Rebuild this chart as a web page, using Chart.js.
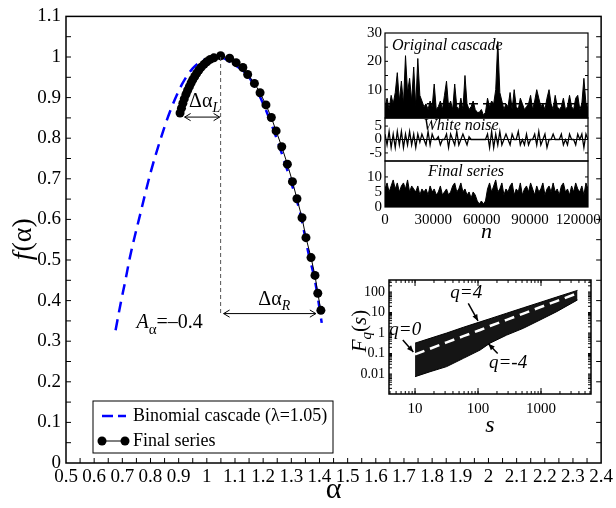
<!DOCTYPE html>
<html>
<head>
<meta charset="utf-8">
<script src="https://cdn.jsdelivr.net/npm/chart.js@4.4.1/dist/chart.umd.min.js"></script>
<style>
  body { margin: 0; background: #fff; }
  #wrap { position: relative; width: 616px; height: 508px; }
  canvas { position: absolute; }
</style>
</head>
<body>
<div id="wrap">
  <canvas id="mainChart" width="616" height="508" style="left:0;top:0"></canvas>
  <canvas id="seriesChart" width="272" height="225" style="left:340px;top:20px"></canvas>
  <canvas id="fqChart" width="272" height="190" style="left:340px;top:265px"></canvas>
</div>

<script>
// main panel: multifractal spectrum f(alpha)
var binomAlpha = [0.676, 0.694, 0.711, 0.727, 0.764, 0.799, 0.834, 0.870, 0.912, 0.950, 0.990, 1.040, 1.100, 1.150, 1.200, 1.250, 1.300, 1.330, 1.360, 1.385, 1.408];
var binomF     = [0.327, 0.393, 0.450, 0.507, 0.614, 0.712, 0.794, 0.867, 0.933, 0.972, 0.993, 1.000, 0.980, 0.950, 0.885, 0.795, 0.690, 0.620, 0.520, 0.445, 0.345];
var finalAlpha = [0.905, 0.910, 0.915, 0.920, 0.926, 0.932, 0.938, 0.944, 0.950, 0.957, 0.964, 0.972, 0.980, 0.990, 1.000, 1.012, 1.025, 1.049,
                  1.081, 1.104, 1.128, 1.145, 1.169, 1.189, 1.210, 1.229, 1.246, 1.266, 1.286, 1.304, 1.320, 1.338, 1.352, 1.370, 1.384, 1.394, 1.405];
var finalF     = [0.862, 0.874, 0.886, 0.897, 0.908, 0.918, 0.927, 0.936, 0.944, 0.952, 0.960, 0.968, 0.975, 0.982, 0.988, 0.994, 0.998, 1.003,
                  0.997, 0.986, 0.974, 0.957, 0.935, 0.912, 0.882, 0.851, 0.818, 0.779, 0.736, 0.693, 0.651, 0.604, 0.555, 0.506, 0.462, 0.418, 0.376];
var peakAlpha = 1.049, minAlpha = 0.907, maxAlpha = 1.405;

// top inset: the three signals (sampled along n)
var nMax = 126000;
var nTicks = [0, 30000, 60000, 90000, 120000];
var cascade = [4,7,3,8,5,9,16,6,13,5, 22,9,14,6,18,4,21,8,6,4,
               5,3,6,4,12,3,4,6,3,8, 13,4,6,3,12,4,3,7,3,15,
               5,3,4,6,3,2,2,3,1,2, 7,4,6,5,10,27,9,6,3,5,
               4,9,3,10,4,3,7,5,3,4, 5,8,3,6,10,7,4,5,3,7,
               10,5,3,8,4,3,4,7,3,4, 8,4,3,7,8,3,5,14,5,4];
var cascadeLevel = 5;
var noise = [2,-2,3,-3,2,-3,3,-2,3,-3, 2,-2,3,-2,2,-3,2,-1,2,0,
             -2,3,-2,2,0,0,1,-2,0,0, 2,-3,2,0,-2,3,-2,0,2,0,
             -2,1,0,0,0,0,0,0,0,0, 2,-3,3,-3,2,-2,3,-2,0,2,
             0,-2,2,0,0,3,-2,0,-2,2, -2,0,0,2,-2,3,-2,0,2,-3,
             0,0,2,0,0,0,2,-2,0,-2, 2,0,0,-2,2,0,2,-3,2,0];
var finalSeries = [6,8,5,7,9,6,8,5,7,8, 6,9,5,7,6,5,7,4,6,5,
                   6,4,7,5,6,4,5,7,4,5, 6,4,5,7,8,5,6,8,5,6,
                   4,5,3,5,4,2,1,2,1,2, 6,8,5,7,9,5,6,8,4,6,
                   5,7,8,4,6,5,8,4,6,7, 5,8,6,4,7,5,6,8,4,6,
                   7,5,8,5,6,4,7,8,5,6, 4,7,5,8,6,5,7,4,8,6];

// bottom inset: fluctuation functions F_q(s)
var fqS     = [10, 17.3, 31.8, 58.5, 108, 155, 285, 524, 964, 1774, 3800];
var fqUpper = [0.32, 0.55, 1.0, 1.9, 3.5, 5.0, 9.2, 17, 31, 57, 120];
var fqLower = [0.0074, 0.0129, 0.023, 0.058, 0.148, 0.32, 0.79, 1.7, 4.3, 11, 41];
var fqZero  = [0.09, 0.17, 0.35, 0.70, 1.4, 2.2, 4.4, 8.8, 18, 36, 87];

var serif = "'Liberation Serif', 'DejaVu Serif', serif";
Chart.defaults.font.family = serif;
Chart.defaults.color = '#000';

function pts(xs, ys) {
  return xs.map(function (x, i) { return { x: x, y: ys[i] }; });
}
function steps(from, to, step) {
  var out = [];
  for (var v = from; v <= to + 1e-9; v += step) out.push(+v.toFixed(4));
  return out;
}
function logMinor(from, to) {
  var out = [];
  for (var d = Math.floor(Math.log10(from)); d <= Math.ceil(Math.log10(to)); d++) {
    for (var k = 1; k <= 9; k++) {
      var v = k * Math.pow(10, d);
      if (v >= from && v <= to) out.push(v);
    }
  }
  return out;
}
function tickMarks(ctx, a, scale, values, side, len) {
  values.forEach(function (v) {
    var p = scale.getPixelForValue(v);
    if (side === 'bottom') { ctx.moveTo(p, a.bottom); ctx.lineTo(p, a.bottom - len); }
    else if (side === 'top') { ctx.moveTo(p, a.top); ctx.lineTo(p, a.top + len); }
    else if (side === 'left') { ctx.moveTo(a.left, p); ctx.lineTo(a.left + len, p); }
    else { ctx.moveTo(a.right, p); ctx.lineTo(a.right - len, p); }
  });
}
function runs(ctx, x, y, parts) {
  parts.forEach(function (r) {
    ctx.font = r.font;
    ctx.fillText(r.text, x, y + (r.dy || 0));
    x += ctx.measureText(r.text).width;
  });
}
function openArrow(ctx, x1, x2, y, s) {
  ctx.beginPath();
  ctx.moveTo(x1, y); ctx.lineTo(x2, y);
  ctx.moveTo(x1 + s, y - s * 0.6); ctx.lineTo(x1, y); ctx.lineTo(x1 + s, y + s * 0.6);
  ctx.moveTo(x2 - s, y - s * 0.6); ctx.lineTo(x2, y); ctx.lineTo(x2 - s, y + s * 0.6);
  ctx.stroke();
}
function solidArrow(ctx, x1, y1, x2, y2) {
  var ang = Math.atan2(y2 - y1, x2 - x1), h = 7;
  ctx.beginPath(); ctx.moveTo(x1, y1); ctx.lineTo(x2, y2); ctx.stroke();
  ctx.beginPath();
  ctx.moveTo(x2, y2);
  ctx.lineTo(x2 - h * Math.cos(ang - 0.4), y2 - h * Math.sin(ang - 0.4));
  ctx.lineTo(x2 - h * Math.cos(ang + 0.4), y2 - h * Math.sin(ang + 0.4));
  ctx.closePath(); ctx.fill();
}

// ---------- main chart ----------
var mainDecor = {
  id: 'mainDecor',
  afterDraw: function (chart) {
    var ctx = chart.ctx, a = chart.chartArea, xs = chart.scales.x, ys = chart.scales.y;
    ctx.save();
    ctx.strokeStyle = '#000';
    ctx.lineWidth = 1.5;
    ctx.strokeRect(a.left, a.top, a.right - a.left, a.bottom - a.top);
    ctx.lineWidth = 1;
    ctx.beginPath();
    tickMarks(ctx, a, xs, steps(0.55, 2.35, 0.05), 'bottom', 5);
    tickMarks(ctx, a, ys, steps(0.05, 1.05, 0.05), 'left', 5);
    tickMarks(ctx, a, ys, steps(0.05, 1.05, 0.05), 'right', 5);
    ctx.stroke();

    // guide from the peak
    var px = xs.getPixelForValue(peakAlpha);
    ctx.strokeStyle = '#555';
    ctx.setLineDash([4, 3]);
    ctx.beginPath();
    ctx.moveTo(px, ys.getPixelForValue(1.0));
    ctx.lineTo(px, ys.getPixelForValue(0.363));
    ctx.stroke();
    ctx.setLineDash([]);

    // width arrows
    ctx.strokeStyle = '#000';
    ctx.lineWidth = 1;
    openArrow(ctx, xs.getPixelForValue(minAlpha) + 4, px - 1, ys.getPixelForValue(0.852), 6);
    openArrow(ctx, px + 3, xs.getPixelForValue(maxAlpha) - 5, ys.getPixelForValue(0.368), 6);

    ctx.fillStyle = '#000';
    ctx.textBaseline = 'alphabetic';
    ctx.textAlign = 'left';
    runs(ctx, xs.getPixelForValue(0.937), ys.getPixelForValue(0.878), [
      { text: 'Δα', font: '20px ' + serif },
      { text: 'L', font: 'italic 14px ' + serif, dy: 5 }
    ]);
    runs(ctx, xs.getPixelForValue(1.183), ys.getPixelForValue(0.388), [
      { text: 'Δα', font: '20px ' + serif },
      { text: 'R', font: 'italic 14px ' + serif, dy: 5 }
    ]);
    runs(ctx, xs.getPixelForValue(0.75), ys.getPixelForValue(0.332), [
      { text: 'A', font: 'italic 20px ' + serif },
      { text: 'α', font: '15px ' + serif, dy: 6 },
      { text: '=–0.4', font: '20px ' + serif }
    ]);

    // y title f(alpha)
    ctx.save();
    ctx.translate(24, (a.top + a.bottom) / 2);
    ctx.rotate(-Math.PI / 2);
    ctx.textBaseline = 'middle';
    ctx.font = 'italic 28px ' + serif;
    var w1 = ctx.measureText('f').width;
    ctx.font = '28px ' + serif;
    var w2 = ctx.measureText('(α)').width;
    var sx = -(w1 + w2) / 2;
    ctx.font = 'italic 28px ' + serif;
    ctx.fillText('f', sx, 0);
    ctx.font = '28px ' + serif;
    ctx.fillText('(α)', sx + w1 + 1, 0);
    ctx.restore();

    // legend
    var lx = a.left + 27, ly = a.bottom - 62;
    ctx.lineWidth = 1;
    ctx.strokeStyle = '#000';
    ctx.strokeRect(lx, ly, 240, 52);
    ctx.strokeStyle = '#0000ff';
    ctx.lineWidth = 2.5;
    ctx.setLineDash([11, 5]);
    ctx.beginPath(); ctx.moveTo(lx + 9, ly + 15); ctx.lineTo(lx + 33, ly + 15); ctx.stroke();
    ctx.setLineDash([]);
    ctx.strokeStyle = '#000';
    ctx.lineWidth = 1;
    ctx.beginPath(); ctx.moveTo(lx + 9, ly + 40); ctx.lineTo(lx + 32, ly + 40); ctx.stroke();
    [lx + 9, lx + 32].forEach(function (cx) {
      ctx.beginPath(); ctx.arc(cx, ly + 40, 4.5, 0, Math.PI * 2); ctx.fill();
    });
    ctx.font = '18px ' + serif;
    ctx.textBaseline = 'middle';
    ctx.fillText(chart.data.datasets[0].label, lx + 40, ly + 15);
    ctx.fillText(chart.data.datasets[1].label, lx + 40, ly + 40);
    ctx.restore();
  }
};

new Chart(document.getElementById('mainChart'), {
  type: 'scatter',
  data: {
    datasets: [{
      label: 'Binomial cascade (λ=1.05)',
      data: pts(binomAlpha, binomF),
      showLine: true,
      cubicInterpolationMode: 'monotone',
      borderColor: '#0000ff',
      borderWidth: 2.5,
      borderDash: [11, 7],
      pointRadius: 0,
      order: 1
    }, {
      label: 'Final series',
      data: pts(finalAlpha, finalF),
      showLine: true,
      borderColor: '#000',
      borderWidth: 1,
      pointRadius: 4.5,
      pointBackgroundColor: '#000',
      pointBorderWidth: 0,
      order: 0
    }]
  },
  options: {
    responsive: false,
    animation: false,
    layout: { padding: { top: 15, right: 11, left: 0, bottom: 0 } },
    plugins: { legend: { display: false }, tooltip: { enabled: false } },
    scales: {
      x: {
        type: 'linear', min: 0.5, max: 2.4,
        afterFit: function (s) { s.height = 45; },
        afterBuildTicks: function (s) { s.ticks = steps(0.5, 2.4, 0.1).map(function (v) { return { value: v }; }); },
        ticks: { autoSkip: false, maxRotation: 0, padding: 3, font: { size: 19 },
                 callback: function (v) { return String(+v.toFixed(1)); } },
        grid: { display: false, drawTicks: false },
        border: { display: false },
        title: { display: true, text: 'α', font: { size: 30 }, padding: 0 }
      },
      y: {
        type: 'linear', min: 0, max: 1.1,
        afterFit: function (s) { s.width = 66; },
        afterBuildTicks: function (s) { s.ticks = steps(0, 1.1, 0.1).map(function (v) { return { value: v }; }); },
        ticks: { autoSkip: false, padding: 5, font: { size: 19 },
                 callback: function (v) { return String(+v.toFixed(1)); } },
        grid: { display: false, drawTicks: false },
        border: { display: false }
      }
    }
  },
  plugins: [mainDecor]
});

// ---------- top inset: signals ----------
function along(values) {
  return values.map(function (v, i) { return { x: i * nMax / (values.length - 1), y: v }; });
}
var seriesDecor = {
  id: 'seriesDecor',
  afterDraw: function (chart) {
    var ctx = chart.ctx, a = chart.chartArea, sc = chart.scales;
    ctx.save();
    ctx.strokeStyle = '#000';
    ctx.lineWidth = 1.2;
    ['yC', 'yN', 'yF'].forEach(function (id) {
      ctx.strokeRect(a.left, sc[id].top, a.right - a.left, sc[id].bottom - sc[id].top);
    });
    ctx.lineWidth = 1;
    ctx.beginPath();
    tickMarks(ctx, a, sc.x, steps(10000, 120000, 10000), 'bottom', 3);
    tickMarks(ctx, a, sc.yC, [5, 10, 15, 20, 25], 'left', 3);
    tickMarks(ctx, a, sc.yC, [5, 10, 15, 20, 25], 'right', 3);
    tickMarks(ctx, a, sc.yN, [-5, 0, 5], 'left', 3);
    tickMarks(ctx, a, sc.yN, [-5, 0, 5], 'right', 3);
    tickMarks(ctx, a, sc.yF, [5, 10], 'left', 3);
    tickMarks(ctx, a, sc.yF, [5, 10], 'right', 3);
    ctx.stroke();
    ctx.fillStyle = '#000';
    ctx.font = 'italic 16px ' + serif;
    ctx.textBaseline = 'middle';
    ctx.textAlign = 'left';
    ctx.fillText('Original cascade', a.left + 7, sc.yC.top + 13);
    ctx.textAlign = 'center';
    ctx.fillText('White noise', a.left + 76, sc.yN.top + 8);
    ctx.fillText('Final series', a.left + 81, sc.yF.top + 11);
    ctx.restore();
  }
};
function yStack(weight, min, max, labels) {
  return {
    type: 'linear', position: 'left', stack: 'signals', stackWeight: weight, min: min, max: max,
    afterFit: function (s) { s.width = 45; },
    afterBuildTicks: function (s) { s.ticks = labels.map(function (v) { return { value: v }; }); },
    ticks: { autoSkip: false, padding: 3, font: { size: 15 } },
    grid: { display: false, drawTicks: false },
    border: { display: false }
  };
}
new Chart(document.getElementById('seriesChart'), {
  type: 'line',
  data: {
    datasets: [
      { data: along(cascade), yAxisID: 'yC', borderColor: '#000', backgroundColor: '#000', borderWidth: 1, pointRadius: 0, fill: 'origin' },
      { data: [{ x: 0, y: cascadeLevel }, { x: nMax, y: cascadeLevel }], yAxisID: 'yC', borderColor: '#000', borderWidth: 1.5, borderDash: [9, 5], pointRadius: 0 },
      { data: along(noise), yAxisID: 'yN', borderColor: '#000', borderWidth: 1.3, pointRadius: 0 },
      { data: [{ x: 0, y: 0 }, { x: nMax, y: 0 }], yAxisID: 'yN', borderColor: '#000', borderWidth: 1, pointRadius: 0 },
      { data: along(finalSeries), yAxisID: 'yF', borderColor: '#000', backgroundColor: '#000', borderWidth: 1, pointRadius: 0, fill: 'origin' }
    ]
  },
  options: {
    responsive: false,
    animation: false,
    layout: { padding: { top: 13, right: 24, left: 0, bottom: 0 } },
    plugins: { legend: { display: false }, tooltip: { enabled: false } },
    scales: {
      x: {
        type: 'linear', min: 0, max: nMax,
        afterFit: function (s) { s.height = 38; },
        afterBuildTicks: function (s) { s.ticks = nTicks.map(function (v) { return { value: v }; }); },
        ticks: { autoSkip: false, maxRotation: 0, padding: 4, font: { size: 15 }, callback: function (v) { return String(v); } },
        grid: { display: false, drawTicks: false },
        border: { display: false },
        title: { display: true, text: 'n', font: { size: 22, style: 'italic' }, padding: 0 }
      },
      // stacked axes are laid out bottom-up in this order
      yF: yStack(46, 0, 15.3, [0, 5, 10]),
      yN: yStack(43, -8, 8, [-5, 0, 5]),
      yC: yStack(85, 0, 30, [10, 20, 30])
    }
  },
  plugins: [seriesDecor]
});

// ---------- bottom inset: F_q(s) ----------
var fqDecor = {
  id: 'fqDecor',
  afterDraw: function (chart) {
    var ctx = chart.ctx, a = chart.chartArea, xs = chart.scales.x, ys = chart.scales.y;
    ctx.save();
    ctx.strokeStyle = '#000';
    ctx.lineWidth = 1.5;
    ctx.strokeRect(a.left, a.top, a.right - a.left, a.bottom - a.top);
    ctx.lineWidth = 1;
    ctx.beginPath();
    var xm = logMinor(xs.min, xs.max), ym = logMinor(ys.min, ys.max);
    tickMarks(ctx, a, xs, xm, 'bottom', 3);
    tickMarks(ctx, a, xs, xm, 'top', 3);
    tickMarks(ctx, a, ys, ym, 'left', 3);
    tickMarks(ctx, a, ys, ym, 'right', 3);
    tickMarks(ctx, a, xs, [10, 100, 1000], 'bottom', 6);
    tickMarks(ctx, a, xs, [10, 100, 1000], 'top', 6);
    ctx.stroke();

    ctx.fillStyle = '#000';
    ctx.lineWidth = 1.5;
    function P(s, f) { return [xs.getPixelForValue(s), ys.getPixelForValue(f)]; }
    var t, h;
    t = P(70, 28); h = P(100, 3.9); solidArrow(ctx, t[0], t[1], h[0], h[1]);
    t = P(6.4, 0.45); h = P(9.4, 0.12); solidArrow(ctx, t[0], t[1], h[0], h[1]);
    t = P(205, 0.1); h = P(146, 0.3); solidArrow(ctx, t[0], t[1], h[0], h[1]);

    ctx.font = 'italic 19px ' + serif;
    ctx.textAlign = 'center';
    ctx.textBaseline = 'middle';
    var p = P(65, 90); ctx.fillText('q=4', p[0], p[1]);
    p = P(7.0, 1.4); ctx.fillText('q=0', p[0], p[1]);
    p = P(300, 0.035); ctx.fillText('q=-4', p[0], p[1]);

    // y title F_q(s)
    ctx.save();
    ctx.translate(19, (a.top + a.bottom) / 2 - 6);
    ctx.rotate(-Math.PI / 2);
    ctx.textAlign = 'left';
    ctx.textBaseline = 'alphabetic';
    var parts = [
      { text: 'F', font: 'italic 21px ' + serif },
      { text: 'q', font: 'italic 15px ' + serif, dy: 5 },
      { text: '(', font: '21px ' + serif },
      { text: 's', font: 'italic 21px ' + serif },
      { text: ')', font: '21px ' + serif }
    ];
    var tw = 0;
    parts.forEach(function (r) { ctx.font = r.font; tw += ctx.measureText(r.text).width; });
    runs(ctx, -tw / 2, 7, parts);
    ctx.restore();
    ctx.restore();
  }
};
new Chart(document.getElementById('fqChart'), {
  type: 'line',
  data: {
    datasets: [
      { label: 'q=0', data: pts(fqS, fqZero), borderColor: '#fff', borderWidth: 2.5, borderDash: [10, 6], pointRadius: 0, order: 0 },
      { label: 'q=4', data: pts(fqS, fqUpper), borderColor: '#000', borderWidth: 1, pointRadius: 0, order: 1 },
      { label: 'q=-4', data: pts(fqS, fqLower), borderColor: '#000', backgroundColor: '#151515', borderWidth: 1, pointRadius: 0, fill: '-1', order: 2 }
    ]
  },
  options: {
    responsive: false,
    animation: false,
    layout: { padding: { top: 15, right: 21, left: 0, bottom: 0 } },
    plugins: { legend: { display: false }, tooltip: { enabled: false } },
    scales: {
      x: {
        type: 'logarithmic', min: 3.86, max: 6220,
        afterFit: function (s) { s.height = 61; },
        afterBuildTicks: function (s) { s.ticks = [10, 100, 1000].map(function (v) { return { value: v }; }); },
        ticks: { autoSkip: false, maxRotation: 0, padding: 6, font: { size: 15 }, callback: function (v) { return String(v); } },
        grid: { display: false, drawTicks: false },
        border: { display: false },
        title: { display: true, text: 's', font: { size: 24, style: 'italic' }, padding: { top: 0, bottom: 15 } }
      },
      y: {
        type: 'logarithmic', min: 0.00106, max: 385,
        afterFit: function (s) { s.width = 49; },
        afterBuildTicks: function (s) { s.ticks = [0.01, 0.1, 1, 10, 100].map(function (v) { return { value: v }; }); },
        ticks: { autoSkip: false, padding: 4, font: { size: 14 }, callback: function (v) { return String(v); } },
        grid: { display: false, drawTicks: false },
        border: { display: false }
      }
    }
  },
  plugins: [fqDecor]
});
</script>
</body>
</html>
